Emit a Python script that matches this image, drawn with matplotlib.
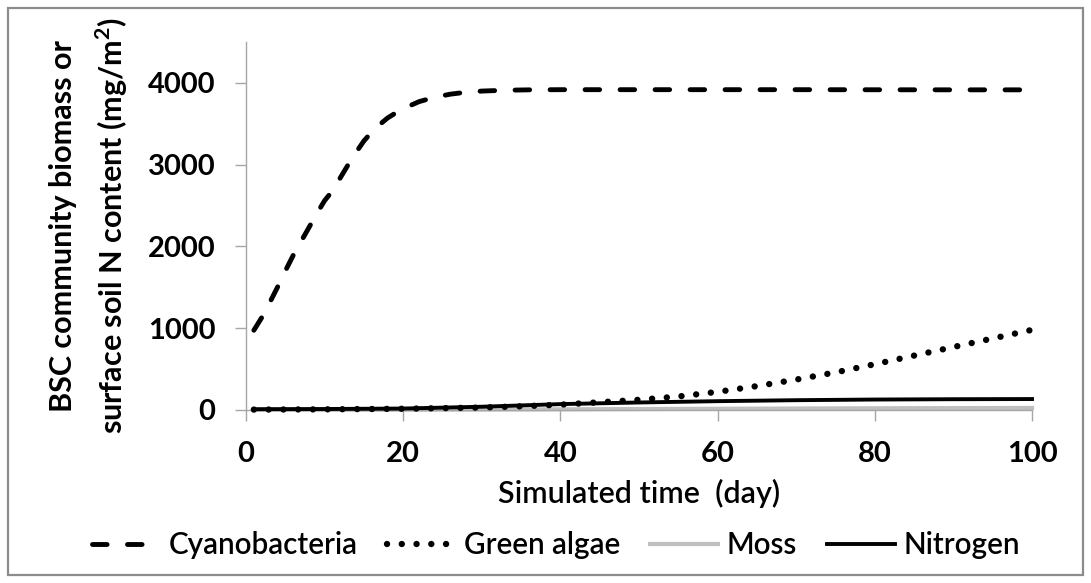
import matplotlib
matplotlib.use("Agg")
import matplotlib.pyplot as plt
from matplotlib.patches import Rectangle

plt.rcParams['font.family'] = ['Lato', 'DejaVu Sans']

# Simulated BSC dynamics
cyano_day = [1, 2, 3, 4, 5, 6, 7, 8, 9, 10, 11, 12, 13, 14, 15, 16, 17, 18, 19, 20,
             22, 24, 26, 28, 30, 33, 36, 40, 50, 60, 70, 80, 90, 100]
cyano_val = [975, 1130, 1310, 1500, 1700, 1890, 2060, 2230, 2400, 2560, 2680, 2840,
             3000, 3150, 3290, 3400, 3490, 3570, 3630, 3685, 3770, 3825, 3862, 3886,
             3900, 3910, 3915, 3917, 3917, 3917, 3917, 3916, 3915, 3915]

algae_day = [1, 10, 20, 30, 35, 40, 45, 50, 55, 60, 65, 70, 75, 80, 85, 90, 95, 100]
algae_val = [5, 8, 15, 30, 45, 65, 95, 125, 165, 222, 292, 372, 460, 560, 665, 770, 875, 980]

moss_day = [1, 20, 40, 60, 80, 100]
moss_val = [2, 3, 8, 15, 21, 25]

nitro_day = [1, 10, 20, 30, 40, 50, 60, 70, 80, 90, 100]
nitro_val = [10, 12, 18, 40, 72, 92, 108, 120, 128, 132, 134]

x_ticks = [0, 20, 40, 60, 80, 100]
y_ticks = [0, 1000, 2000, 3000, 4000]

fig = plt.figure(figsize=(10.91, 5.83), dpi=100)
ax = fig.add_axes([246 / 1091, 1 - 410 / 583, (1032 - 246) / 1091, (410 - 42) / 583])

axis_grey = '#a6a6a6'

ax.plot(cyano_day, cyano_val, color='black', lw=3.5, dashes=(3.0, 4.2),
        dash_capstyle='round', label='Cyanobacteria', clip_on=False, zorder=3)
ax.plot(algae_day, algae_val, color='black', lw=4.6, dashes=(0.01, 2.3),
        dash_capstyle='round', label='Green algae', clip_on=False, zorder=3)
ax.plot(moss_day, moss_val, color='#bfbfbf', lw=3.0, label='Moss',
        clip_on=False, zorder=2)
ax.plot(nitro_day, nitro_val, color='black', lw=2.8, label='Nitrogen',
        clip_on=False, zorder=4)

ax.set_xlim(0, 100)
ax.set_ylim(0, 4500)
ax.set_xticks(x_ticks)
ax.set_yticks(y_ticks)
ax.tick_params(axis='both', direction='out', length=8, width=1, color=axis_grey,
               labelsize=21)
ax.tick_params(axis='y', pad=14)
ax.tick_params(axis='x', pad=14)
for lab in ax.get_xticklabels() + ax.get_yticklabels():
    lab.set_fontweight('bold')

for side in ('top', 'right'):
    ax.spines[side].set_visible(False)
for side in ('left', 'bottom'):
    ax.spines[side].set_color(axis_grey)
    ax.spines[side].set_linewidth(1)

ax.set_xlabel('Simulated time  (day)', fontsize=22, fontweight='semibold', labelpad=9)
ax.set_ylabel('BSC community biomass or\nsurface soil N content (mg/m$^\\mathregular{2}$)',
              fontsize=22, fontweight='bold', labelpad=13, linespacing=1.55)

fig.legend(loc='center', bbox_to_anchor=(556 / 1091, 1 - 545 / 583), ncol=4,
           frameon=False, prop={'size': 21.3, 'weight': 'semibold'},
           handlelength=2.3, columnspacing=1.0, handletextpad=0.3)

# outer chart border
fig.patches.append(Rectangle((8 / 1091, 8 / 583), 1075 / 1091, 567 / 583,
                             transform=fig.transFigure, fill=False,
                             edgecolor='#8c8c8c', linewidth=1.6))

fig.savefig('out.png', dpi=100)
